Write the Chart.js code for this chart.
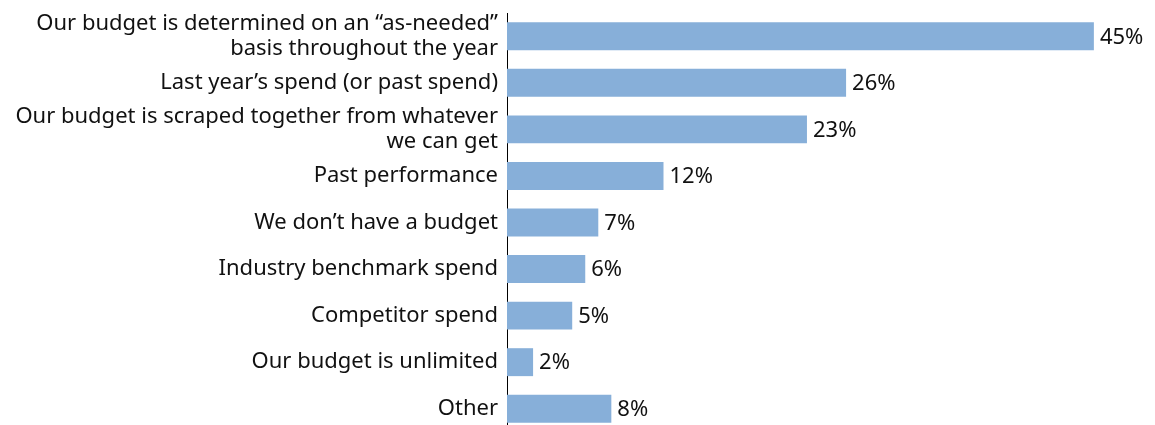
<!DOCTYPE html>
<html>
<head>
<meta charset="utf-8">
<script src="https://cdn.jsdelivr.net/npm/chart.js@4/dist/chart.umd.min.js"></script>
<style>
  html, body { margin: 0; padding: 0; background: #fff; overflow: hidden; }
  #wrap { width: 1155px; height: 440px; position: relative; }
</style>
</head>
<body>
<div id="wrap"><canvas id="chart"></canvas></div>
<script>
/* ── data ────────────────────────────────────────────────── */

const CATEGORIES = [
  ["Our budget is determined on an \u201Cas-needed\u201D", "basis throughout the year"],
  "Last year\u2019s spend (or past spend)",
  ["Our budget is scraped together from whatever", "we can get"],
  "Past performance",
  "We don\u2019t have a budget",
  "Industry benchmark spend",
  "Competitor spend",
  "Our budget is unlimited",
  "Other",
];
const VALUES = [45, 26, 23, 12, 7, 6, 5, 2, 8];

/* ── style ───────────────────────────────────────────────── */

const FONT_FAMILY = "'Noto Sans', sans-serif";
const BAR_COLOR   = "#87afd9";
const AXIS_LEFT   = 507;

/* ── value labels ────────────────────────────────────────── */

const valueLabels = {
  id: "valueLabels",
  afterDatasetsDraw(chart) {
    const { ctx } = chart;
    const meta = chart.getDatasetMeta(0);
    ctx.save();
    ctx.font = `22px ${FONT_FAMILY}`;
    ctx.fillStyle = "#111";
    ctx.textAlign = "left";
    ctx.textBaseline = "middle";
    meta.data.forEach((bar, i) => {
      ctx.fillText(`${VALUES[i]}%`, bar.x + 6, bar.y + 1);
    });
    ctx.restore();
  },
};

/* ── chart ───────────────────────────────────────────────── */

new Chart(document.getElementById("chart"), {
  type: "bar",
  data: {
    labels: CATEGORIES,
    datasets: [{
      data: VALUES,
      backgroundColor: BAR_COLOR,
      barPercentage: 0.6,
      categoryPercentage: 1,
    }],
  },
  options: {
    indexAxis: "y",
    responsive: true,
    maintainAspectRatio: false,
    animation: false,
    layout: { padding: { top: 13, bottom: 8, right: 22 } },
    plugins: { legend: { display: false }, tooltip: { enabled: false } },
    scales: {
      x: { display: false, min: 0, max: 48 },
      y: {
        afterFit(scale) {
          scale.width = AXIS_LEFT;
          scale.paddingTop = 0;
          scale.paddingBottom = 0;
        },
        grid: { display: false, drawTicks: false },
        border: { display: true, color: "#000", width: 1 },
        ticks: {
          autoSkip: false,
          padding: 9,
          color: "#111",
          font: { family: FONT_FAMILY, size: 22, lineHeight: 1.12 },
        },
      },
    },
  },
  plugins: [valueLabels],
});
</script>
</body>
</html>
